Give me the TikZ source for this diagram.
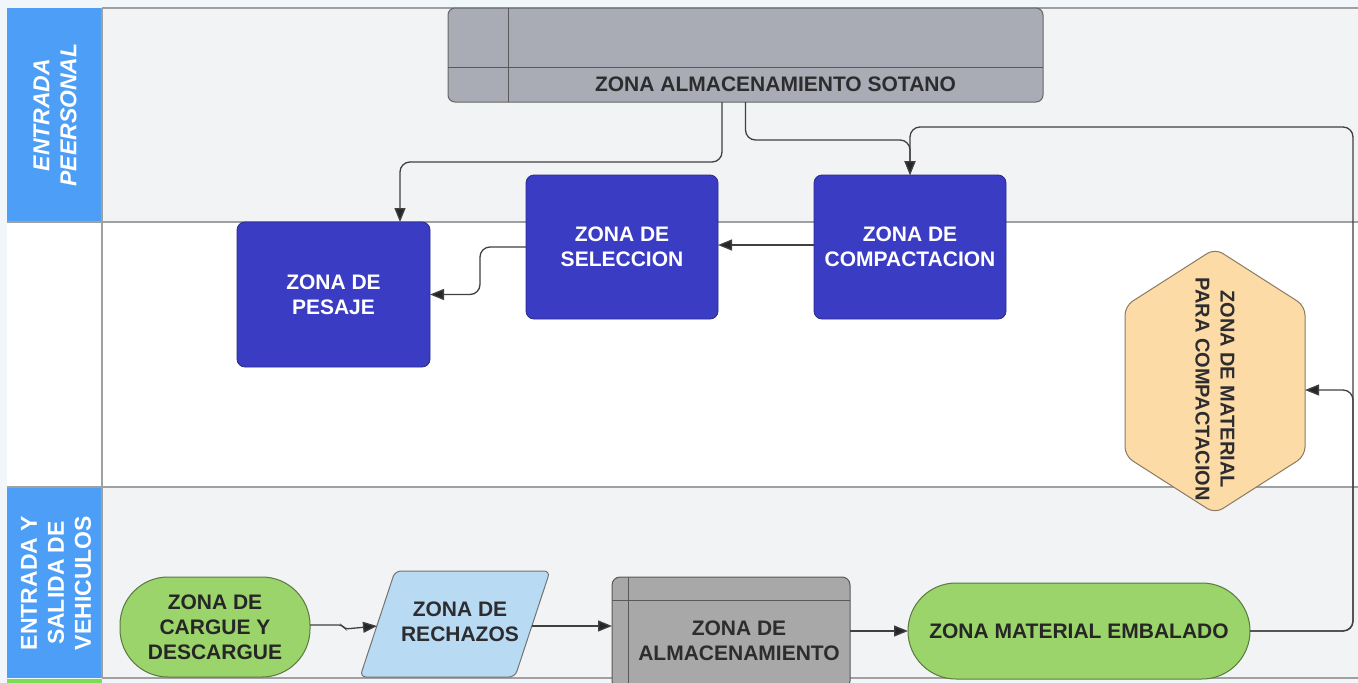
\documentclass[tikz,border=0pt]{standalone}
\usepackage{fontspec}
\setmainfont{Liberation Sans}
\usetikzlibrary{arrows.meta,calc}
\definecolor{lanelbl}{RGB}{77,158,246}
\definecolor{lanebg}{RGB}{241,243,245}
\definecolor{laneline}{RGB}{160,160,160}
\definecolor{sotfill}{RGB}{169,172,180}
\definecolor{nodeblue}{RGB}{58,60,196}
\definecolor{hexfill}{RGB}{253,219,166}
\definecolor{hexline}{RGB}{138,122,100}
\definecolor{greenfill}{RGB}{155,212,106}
\definecolor{greenline}{RGB}{90,120,64}
\definecolor{lbluefill}{RGB}{184,218,243}
\definecolor{almfill}{RGB}{168,168,168}
\definecolor{conncol}{RGB}{64,64,64}
\definecolor{darktext}{RGB}{45,45,48}
\definecolor{pagebg}{RGB}{240,246,250}
\begin{document}
\begin{tikzpicture}[x=1pt,y=-1pt,
  every node/.style={inner sep=0pt, outer sep=0pt},
  txt/.style={font=\bfseries\fontsize{21}{25}\selectfont, align=center},
  bluebox/.style={draw=nodeblue!70!black, line width=0.8pt, fill=nodeblue, rounded corners=8pt,
    minimum width=192pt, minimum height=144pt, txt, text=white},
  greenpill/.style={draw=greenline, line width=1pt, fill=greenfill, rounded corners=48pt,
    txt, text=black!85},
  lanetxt/.style={font=\bfseries\fontsize{23}{27}\selectfont, align=center, text=white, rotate=90},
  conn/.style={draw=conncol, line width=1.3pt, rounded corners=10pt},
  arr/.style={conn, -{Triangle[length=14pt,width=11pt,fill=black!85]}},
]
\useasboundingbox (0,0) rectangle (1358,683);
\clip (0,0) rectangle (1358,683);
\fill[pagebg] (0,0) rectangle (1358,683);

% lanes
\fill[lanebg] (102,8) rectangle (1358,222);
\fill[white] (7,222) rectangle (1358,487);
\fill[lanebg] (102,487) rectangle (1358,678);
\fill[lanelbl] (7,8) rectangle (102,222);
\fill[lanelbl] (7,487) rectangle (102,678);
\fill[greenfill!80!green] (7,679) rectangle (102,690);
\draw[laneline, line width=1.4pt] (102,8) -- (1358,8);
\draw[laneline, line width=1.4pt] (7,222) -- (1358,222);
\draw[laneline, line width=1.4pt] (7,487) -- (1358,487);
\draw[laneline, line width=1.4pt] (102,678) -- (1358,678);
\draw[laneline, line width=1.2pt] (102,8) -- (102,678);

\node[lanetxt, font=\bfseries\itshape\fontsize{23}{27}\selectfont] (lane1) at (55,115) {ENTRADA\\PEERSONAL};
\node[lanetxt] (lane3) at (56,583) {ENTRADA Y\\SALIDA DE\\VEHICULOS};

% storage basement
\node[draw=black!60, line width=1pt, fill=sotfill, rounded corners=7pt,
  minimum width=595pt, minimum height=94pt] (sotano) at (745.5,55) {};
\draw[black!65, line width=1pt] (508,8) -- (508,102);
\draw[black!65, line width=1pt] (448,67) -- (1043,67);
\node[txt, text=darktext] (sotanotxt) at (775.5,84) {ZONA ALMACENAMIENTO SOTANO};

% blue process boxes
\node[bluebox, minimum width=193pt, minimum height=145pt] (pesaje) at (333.5,294.5) {ZONA DE\\PESAJE};
\node[bluebox] (selec) at (622,247) {ZONA DE\\SELECCION};
\node[bluebox] (compact) at (910,247) {ZONA DE\\COMPACTACION};

% hexagon
\node[minimum width=180pt, minimum height=265pt] (hex) at (1215,381) {};
\draw[draw=hexline, line width=1pt, fill=hexfill, rounded corners=9pt]
  (hex.north) -- (hex.north east |- 0,306) -- (hex.south east |- 0,456) -- (hex.south)
  -- (hex.south west |- 0,456) -- (hex.north west |- 0,306) -- cycle;
\node[txt, font=\bfseries\fontsize{20}{25}\selectfont, text=darktext, rotate=-90] (hextxt) at (1215,389) {ZONA DE MATERIAL\\PARA COMPACTACION};
\coordinate (hexR) at (1305,390);

% bottom lane nodes
\node[greenpill, minimum width=190pt, minimum height=100pt] (cargue) at (215,627) {ZONA DE\\CARGUE Y\\DESCARGUE};
\node[minimum width=190pt, minimum height=106pt] (rech) at (455,624) {};
\draw[draw=black!55, line width=1pt, fill=lbluefill, rounded corners=6pt]
  (360,677) -- (395,571) -- (550,571) -- (515,677) -- cycle;
\node[txt, text=darktext] (rechtxt) at (460,622) {ZONA DE\\RECHAZOS};
\coordinate (rechL) at (377,626);
\coordinate (rechR) at (532,626);

\node[draw=black!65, line width=1pt, fill=almfill, rounded corners=8pt,
  minimum width=238pt, minimum height=112pt] (alm) at (731,633) {};
\draw[black!65, line width=1pt] (628,577) -- (628,689);
\draw[black!65, line width=1pt] (612,600) -- (850,600);
\node[txt, text=darktext] (almtxt) at (739,641) {ZONA DE\\ALMACENAMIENTO};

\node[greenpill, minimum width=342pt, minimum height=96pt] (emb) at (1079,631) {ZONA MATERIAL EMBALADO};

% connectors
\draw[arr] ($(sotano.south)+(-23.5,0)$) -- ++(0,60) -| ($(pesaje.north)+(66.5,0)$);
\draw[arr] (sotano.south) -- ++(0,38) -| (compact.north);
\draw[arr] (emb.east) -- ++(103,0) |- ($(compact.north)+(0,-48)$) -- (compact.north);
\draw[arr] (emb.east) -- ++(103,0) |- (hexR);
\draw[arr] ($(compact.west)+(0,-2)$) -- ($(selec.east)+(0,-2)$);
\draw[arr] (selec.west) -- ++(-46,0) |- (pesaje.east);
\draw[arr, rounded corners=3pt] ($(cargue.east)+(0,-2)$) -- ++(32,0) -- ++(3,4) -- (rechL);
\draw[arr] (rechR) -- (rechR -| alm.west);
\draw[arr] (alm.east |- emb.west) -- (emb.west);
\end{tikzpicture}
\end{document}
